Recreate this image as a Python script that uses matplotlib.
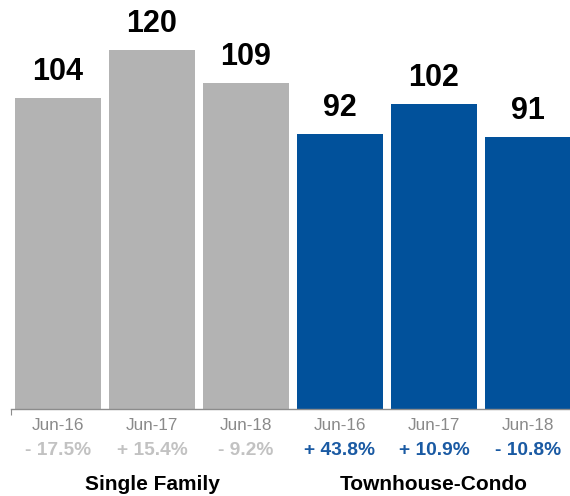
import matplotlib.pyplot as plt
import numpy as np

# Closed sales by June, two property types, three years each
groups = ["Single Family", "Townhouse-Condo"]
periods = ["Jun-16", "Jun-17", "Jun-18"]
single_family = [104, 120, 109]
townhouse_condo = [92, 102, 91]
sf_change = ["- 17.5%", "+ 15.4%", "- 9.2%"]
tc_change = ["+ 43.8%", "+ 10.9%", "- 10.8%"]

GREY = "#b3b3b3"
BLUE = "#01519b"
CHANGE_GREY = "#c2c2c2"
CHANGE_BLUE = "#1a5aa3"

plt.rcParams["font.family"] = ["Liberation Sans", "DejaVu Sans"]

W, H, DPI = 570, 496, 100
fig = plt.figure(figsize=(W / DPI, H / DPI), dpi=DPI)
ax = fig.add_axes([11 / W, (H - 409) / H, 1 - 11 / W, 409 / H])

values = single_family + townhouse_condo
colors = [GREY] * 3 + [BLUE] * 3
changes = sf_change + tc_change
change_colors = [CHANGE_GREY] * 3 + [CHANGE_BLUE] * 3
x = np.arange(len(values))

ax.bar(x, values, width=0.915, color=colors, zorder=2)

for xi, v in zip(x, values):
    ax.annotate(str(v), xy=(xi, v), xytext=(0, 13), textcoords="offset points",
                ha="center", va="baseline", fontsize=22, fontweight="bold",
                color="black")

tr = ax.get_xaxis_transform()
for xi, p, c, cc in zip(x, periods * 2, changes, change_colors):
    ax.text(xi, -0.052, p, transform=tr, ha="center", va="baseline",
            fontsize=12.3, color="#8a8a8a")
    ax.text(xi, -0.113, c, transform=tr, ha="center", va="baseline",
            fontsize=13.8, fontweight="bold", color=cc)

for gx, g in zip([1, 4], groups):
    ax.text(gx, -0.198, g, transform=tr, ha="center", va="baseline",
            fontsize=15, fontweight="bold", color="black")

ax.set_xlim(-0.5, -0.5 + (W - 11) / 94)
ax.set_ylim(0, 409 / 2.99)

for side in ["top", "right", "left"]:
    ax.spines[side].set_visible(False)
ax.spines["bottom"].set_color("#8c8c8c")
ax.spines["bottom"].set_linewidth(1.0)
ax.set_xticks([-0.5])
ax.set_xticklabels([])
ax.tick_params(axis="x", length=4, color="#8c8c8c", width=0.8)
ax.set_yticks([])

fig.savefig("out.png", dpi=DPI, facecolor="white")
